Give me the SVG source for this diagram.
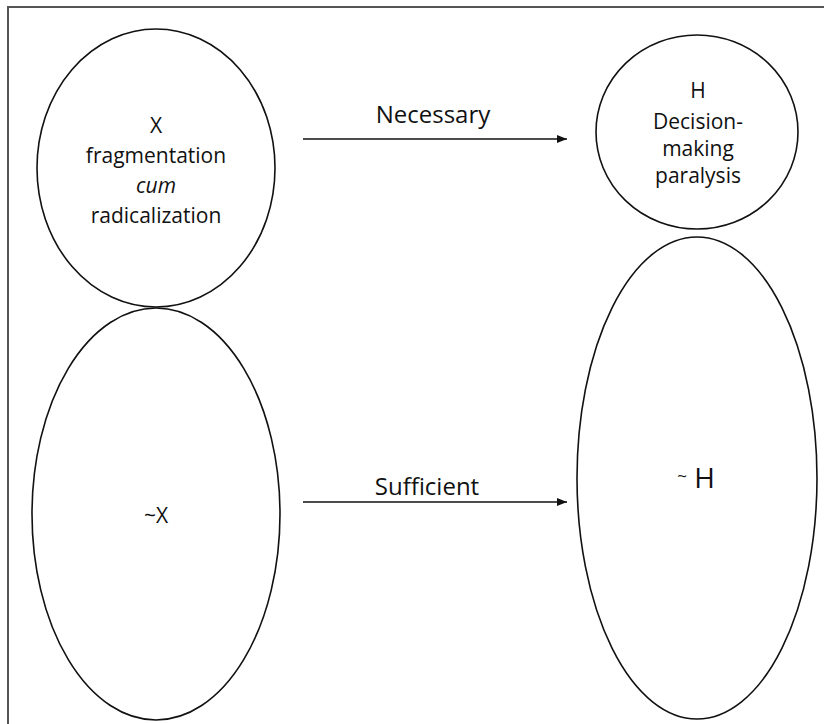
<svg xmlns="http://www.w3.org/2000/svg" width="824" height="724" viewBox="0 0 824 724">
<style>
.shape{fill:#fff;stroke:#111;stroke-width:1.6}
.lbl{font-family:"Open Sans","Liberation Sans",sans-serif;font-size:21px;fill:#111;text-anchor:middle}
.edge{stroke:#111;stroke-width:1.4;fill:none}
.elbl{font-family:"Open Sans","Liberation Sans",sans-serif;font-size:24px;fill:#111;text-anchor:middle}
</style>
<defs>
<marker id="arr" markerUnits="userSpaceOnUse" markerWidth="12" markerHeight="10" refX="10" refY="4" orient="auto">
<path d="M0,0 L10,4 L0,8 Z" fill="#111"/>
</marker>
</defs>
<rect x="0" y="0" width="824" height="724" fill="#fff"/>
<rect x="8" y="7" width="830" height="730" fill="none" stroke="#555" stroke-width="2"/>
<g id="nodeX">
<ellipse class="shape" cx="156" cy="168" rx="119" ry="139"/>
<text class="lbl" x="156" y="133">X</text>
<text class="lbl" x="156" y="163">fragmentation</text>
<text class="lbl" x="156" y="193" font-style="italic">cum</text>
<text class="lbl" x="156" y="223">radicalization</text>
</g>
<g id="nodeNotX">
<ellipse class="shape" cx="156" cy="514" rx="124" ry="206"/>
<text class="lbl" x="156" y="523" font-size="23">~X</text>
</g>
<g id="nodeH">
<ellipse class="shape" cx="697" cy="132" rx="101" ry="97"/>
<text class="lbl" x="698" y="98">H</text>
<text class="lbl" x="698" y="129">Decision-</text>
<text class="lbl" x="698" y="156">making</text>
<text class="lbl" x="698" y="183">paralysis</text>
</g>
<g id="nodeNotH">
<ellipse class="shape" cx="697" cy="478" rx="120" ry="241"/>
<text class="lbl" x="696" y="488"><tspan font-size="17" dy="-6">~</tspan><tspan font-size="28" dy="6"> H</tspan></text>
</g>
<g id="connectors">
<line class="edge" x1="303" y1="139" x2="567" y2="139" marker-end="url(#arr)"/>
<text class="elbl" x="433" y="123">Necessary</text>
<line class="edge" x1="303" y1="502" x2="567" y2="502" marker-end="url(#arr)"/>
<text class="elbl" x="427" y="495">Sufficient</text>
</g>
</svg>
